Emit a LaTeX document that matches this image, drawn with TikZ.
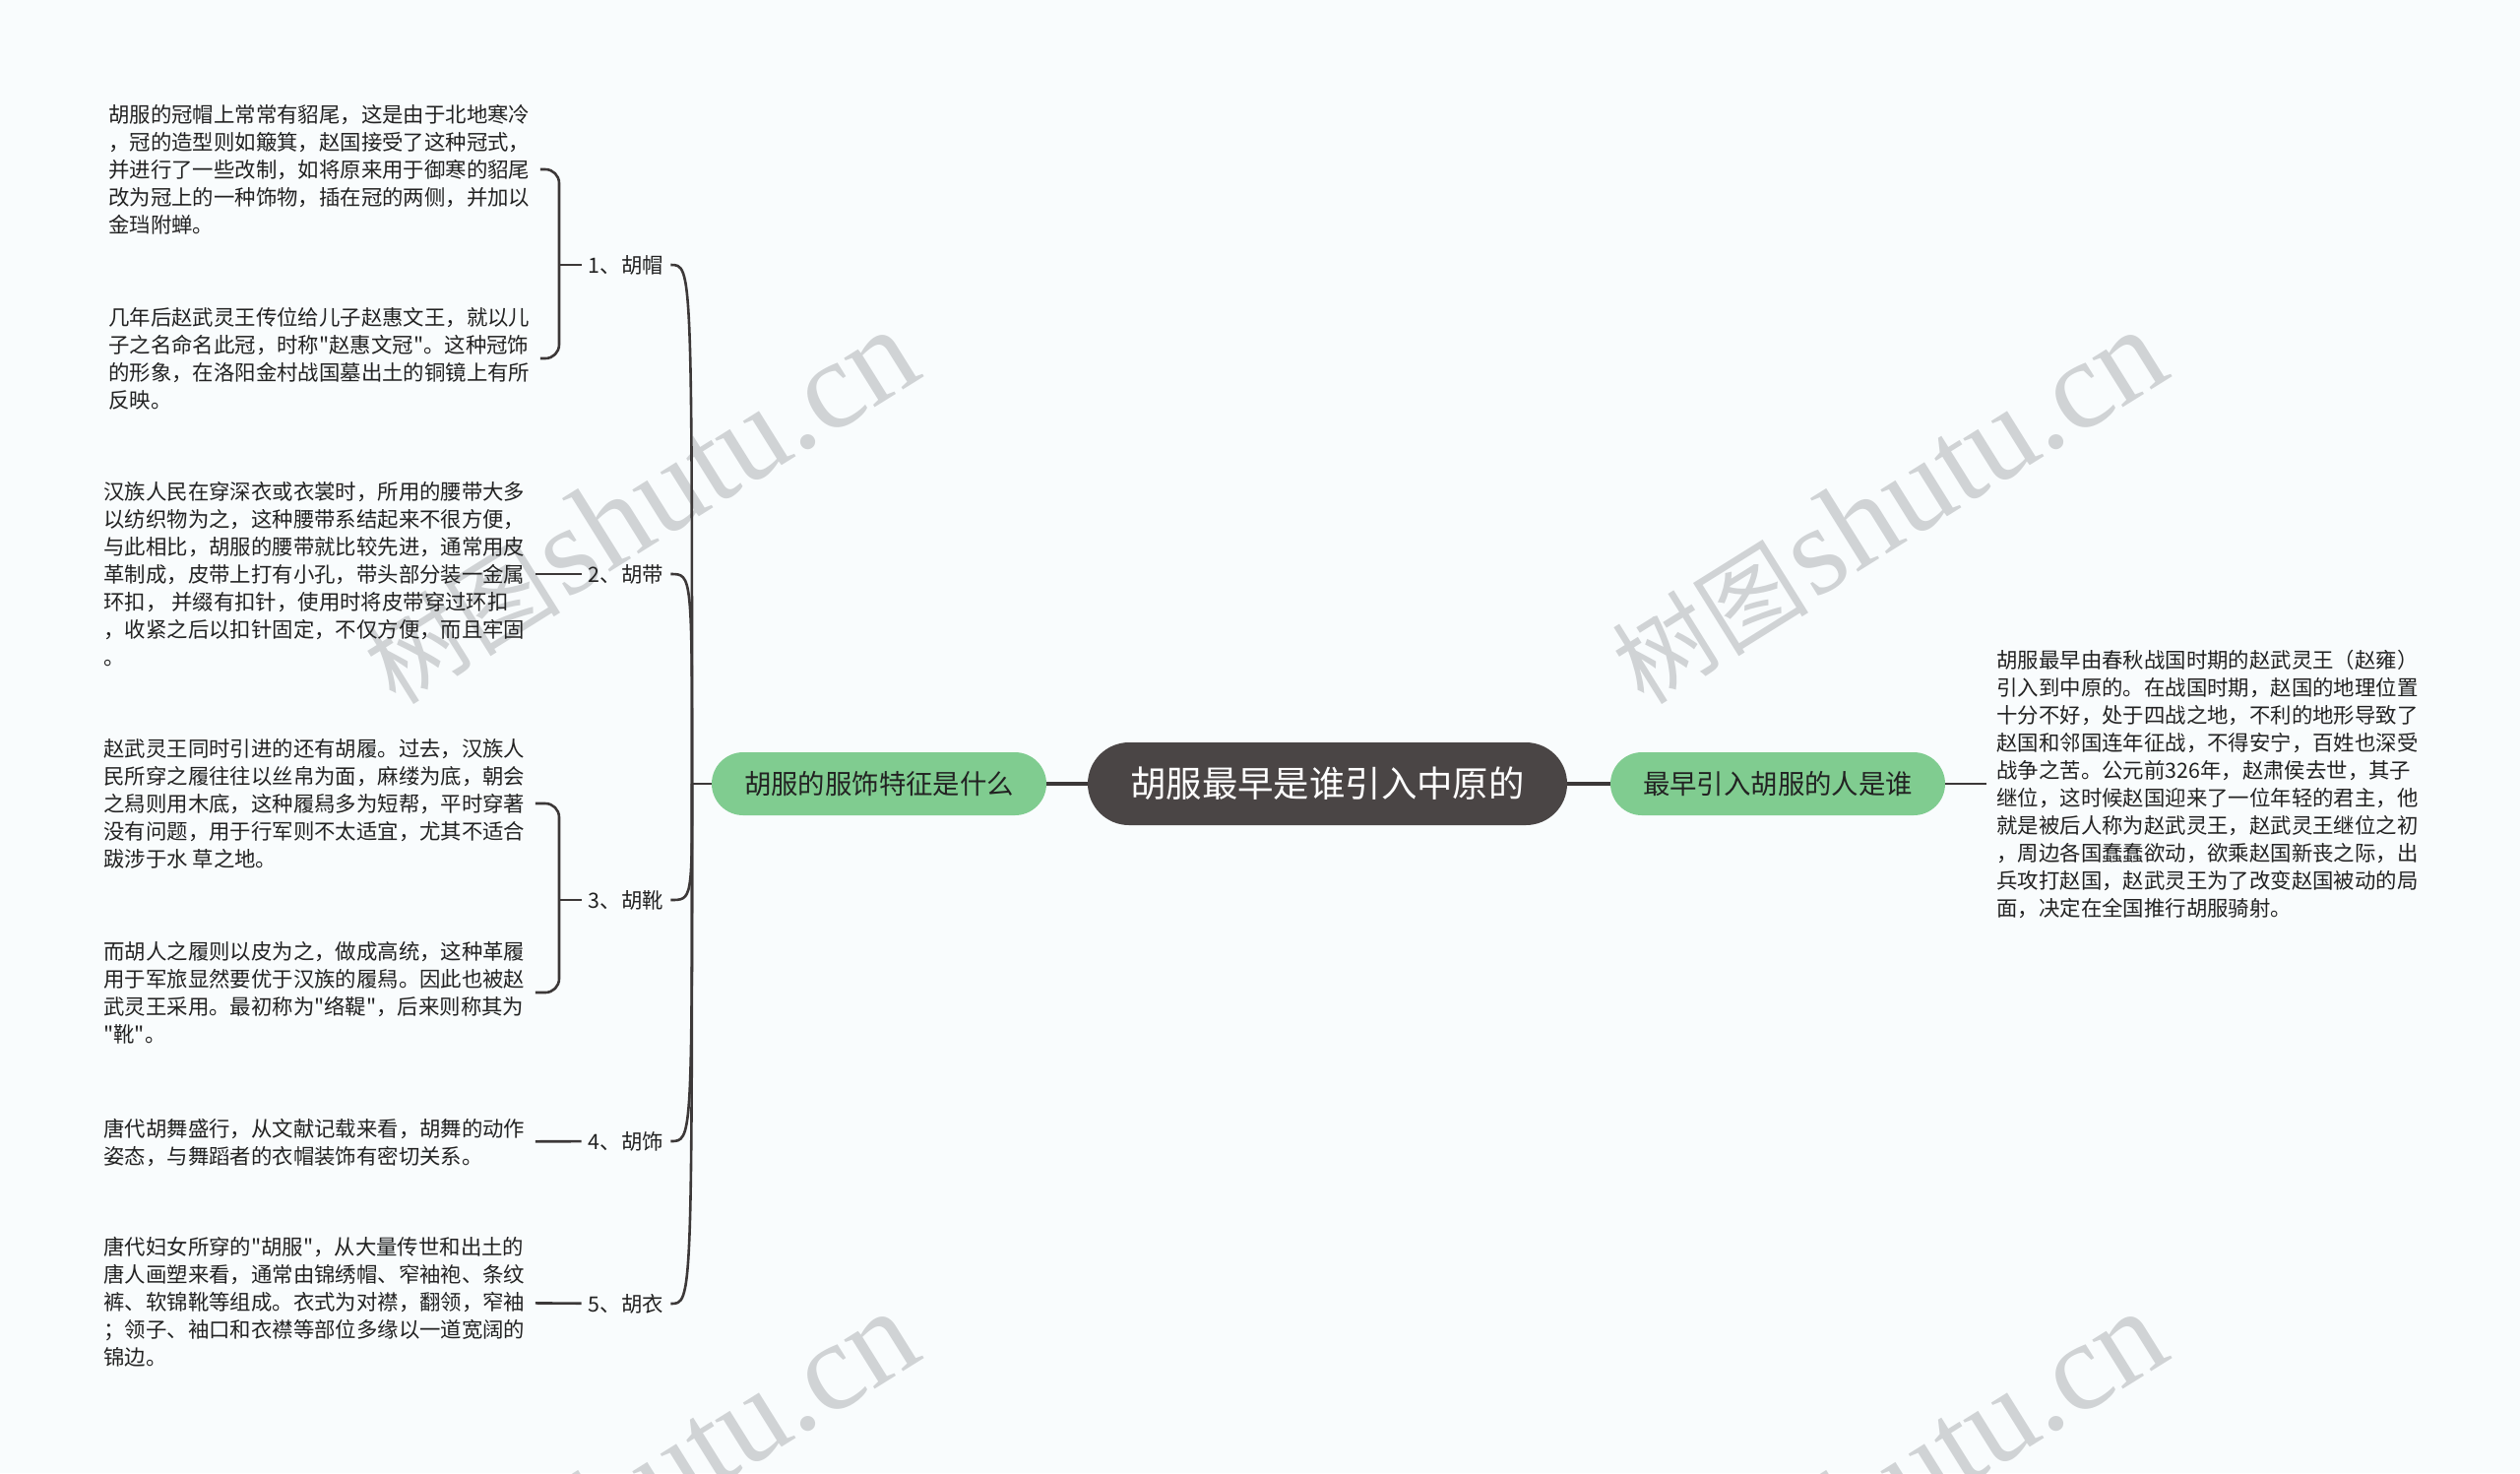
\documentclass[tikz,border=0pt]{standalone}
\usepackage{fontspec}
\setmainfont{Noto Sans CJK SC}[Ligatures=TeXOff]
\newfontfamily\wmfont{Liberation Serif}
\usepackage{xcolor}
\definecolor{cbg}   {RGB}{249,252,253}
\definecolor{croot} {RGB}{74, 69, 69}
\definecolor{cgreen}{RGB}{128,204,144}
\definecolor{cline} {RGB}{60, 56, 56}
\definecolor{ctext} {RGB}{34, 34, 34}
\definecolor{cwm}   {RGB}{208,211,213}
\tikzset{
  root/.style={rectangle, rounded corners=21pt, fill=croot, text=white,
               font=\fontsize{18.2}{22}\selectfont,
               minimum width=243.5pt, minimum height=42pt},
  topic/.style={rectangle, rounded corners=16pt, fill=cgreen, text=ctext,
                font=\fontsize{13.7}{16}\selectfont,
                minimum width=170pt, minimum height=32pt},
  sub/.style={font=\fontsize{10.7}{14}\selectfont, text=ctext,
              inner xsep=3.5pt, inner ysep=2pt},
  desc/.style={font=\fontsize{10.7}{14}\selectfont, text=ctext, align=left,
               anchor=west, inner xsep=5pt, inner ysep=0pt},
  link/.style={draw=cline, line width=1.3pt},
  trunk/.style={draw=cline, line width=1.6pt},
  brace/.style={link, rounded corners=7pt},
  wm/.style={text=cwm, rotate=32, inner sep=0pt},
}

\begin{document}
\begin{tikzpicture}[x=0.5pt, y=-0.5pt]
  % ── Canvas ─────────────────────────────────────────────────────────────────
  \fill[cbg] (0,0) rectangle (2560,1496);
  \useasboundingbox (0,0) rectangle (2560,1496);

  % ── Watermarks ─────────────────────────────────────────────────────────────
  \foreach \wx/\wy [count=\i] in {650/515, 1918/515, 650/1512, 1918/1512}
    \node[wm] (wm\i) at (\wx,\wy)
      {{\fontsize{50}{50}\selectfont 树图} {\wmfont\fontsize{64}{64}\selectfont shutu.cn}};

  % ── Nodes ──────────────────────────────────────────────────────────────────
  \node[root]  at (1348.5,796) (root) {胡服最早是谁引入中原的};
  \node[topic] at (893,796)    (feat) {胡服的服饰特征是什么};
  \node[topic] at (1806,796)   (who)  {最早引入胡服的人是谁};

  \node[desc] at (2018,796) (whotxt) {胡服最早由春秋战国时期的赵武灵王（赵雍）\\
    引入到中原的。在战国时期，赵国的地理位置\\
    十分不好，处于四战之地，不利的地形导致了\\
    赵国和邻国连年征战，不得安宁，百姓也深受\\
    战争之苦。公元前326年，赵肃侯去世，其子\\
    继位，这时候赵国迎来了一位年轻的君主，他\\
    就是被后人称为赵武灵王，赵武灵王继位之初\\
    ，周边各国蠢蠢欲动，欲乘赵国新丧之际，出\\
    兵攻打赵国，赵武灵王为了改变赵国被动的局\\
    面，决定在全国推行胡服骑射。};

  \node[sub] at (636,269)  (hat)  {1、胡帽};
  \node[sub] at (636,583)  (belt) {2、胡带};
  \node[sub] at (636,914)  (boot) {3、胡靴};
  \node[sub] at (636,1159) (orn)  {4、胡饰};
  \node[sub] at (636,1324) (robe) {5、胡衣};

  \node[desc] at (100,172) (hat1) {胡服的冠帽上常常有貂尾，这是由于北地寒冷\\
    ，冠的造型则如簸箕，赵国接受了这种冠式，\\
    并进行了一些改制，如将原来用于御寒的貂尾\\
    改为冠上的一种饰物，插在冠的两侧，并加以\\
    金珰附蝉。};
  \node[desc] at (100,364) (hat2) {几年后赵武灵王传位给儿子赵惠文王，就以儿\\
    子之名命名此冠，时称"赵惠文冠"。这种冠饰\\
    的形象，在洛阳金村战国墓出土的铜镜上有所\\
    反映。};
  \node[desc] at (95,583) (belt1) {汉族人民在穿深衣或衣裳时，所用的腰带大多\\
    以纺织物为之，这种腰带系结起来不很方便，\\
    与此相比，胡服的腰带就比较先进，通常用皮\\
    革制成，皮带上打有小孔，带头部分装一金属\\
    环扣， 并缀有扣针，使用时将皮带穿过环扣\\
    ，收紧之后以扣针固定，不仅方便，而且牢固\\
    。};
  \node[desc] at (95,816) (boot1) {赵武灵王同时引进的还有胡履。过去，汉族人\\
    民所穿之履往往以丝帛为面，麻缕为底，朝会\\
    之舄则用木底，这种履舄多为短帮，平时穿著\\
    没有问题，用于行军则不太适宜，尤其不适合\\
    跋涉于水 草之地。};
  \node[desc] at (95,1008) (boot2) {而胡人之履则以皮为之，做成高统，这种革履\\
    用于军旅显然要优于汉族的履舄。因此也被赵\\
    武灵王采用。最初称为"络鞮"，后来则称其为\\
    "靴"。};
  \node[desc] at (95,1160) (orn1) {唐代胡舞盛行，从文献记载来看，胡舞的动作\\
    姿态，与舞蹈者的衣帽装饰有密切关系。};
  \node[desc] at (95,1322) (robe1) {唐代妇女所穿的"胡服"，从大量传世和出土的\\
    唐人画塑来看，通常由锦绣帽、窄袖袍、条纹\\
    裤、软锦靴等组成。衣式为对襟，翻领，窄袖\\
    ；领子、袖口和衣襟等部位多缘以一道宽阔的\\
    锦边。};

  % ── Connectors ─────────────────────────────────────────────────────────────
  \draw[trunk] (root) -- (feat);
  \draw[trunk] (root) -- (who);
  \draw[link]  (who)  -- (whotxt);

  \coordinate (hub) at (703,796);
  \draw[link] (feat) -- (hub);
  \foreach \n in {hat, belt, boot, orn, robe}
    \draw[link] (hub) .. controls (hub |- \n) .. (\n.east);

  % brackets to the notes
  \coordinate (hatb)  at (568,269);
  \coordinate (bootb) at (568,914);
  \draw[link]  (hat) -- (hatb);
  \draw[brace] (hat1.east) -| (hatb) |- (hat2.east);
  \draw[link]  (boot) -- (bootb);
  \draw[brace] (boot1.east) -| (bootb) |- (boot2.east);

  \draw[link] (belt1) -- (belt);
  \draw[link] (orn1)  -- (orn);
  \draw[link] (robe1) -- (robe);
\end{tikzpicture}
\end{document}
